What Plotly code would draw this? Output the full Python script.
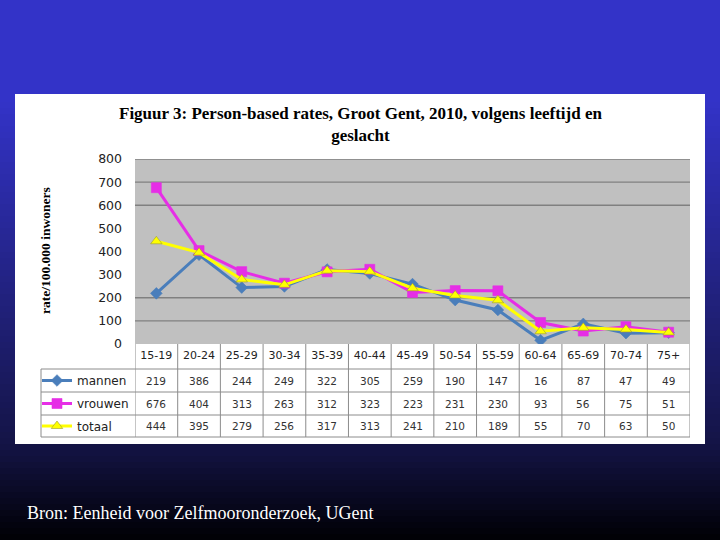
import plotly.graph_objects as go

categories = ["15-19", "20-24", "25-29", "30-34", "35-39", "40-44", "45-49",
              "50-54", "55-59", "60-64", "65-69", "70-74", "75+"]
mannen = [219, 386, 244, 249, 322, 305, 259, 190, 147, 16, 87, 47, 49]
vrouwen = [676, 404, 313, 263, 312, 323, 223, 231, 230, 93, 56, 75, 51]
totaal = [444, 395, 279, 256, 317, 313, 241, 210, 189, 55, 70, 63, 50]
y_ticks = [0, 100, 200, 300, 400, 500, 600, 700, 800]
grid_values = [100, 200, 600, 700, 800]

W, H = 720, 540
def px(x): return x / W
def py(y): return 1 - y / H

series = [
    ("mannen", mannen, "#4A7EBB", "diamond", 9, "legend"),
    ("vrouwen", vrouwen, "#E62EE6", "square", 10, "legend2"),
    ("totaal", totaal, "#FFFF00", "triangle-up", 10, "legend3"),
]
row_y = [380.5, 403.5, 426]

fig = go.Figure()
for name, vals, col, sym, ms, lg in series:
    fig.add_trace(go.Scatter(
        x=categories, y=vals, name=name, mode="lines+markers",
        line=dict(color=col, width=3),
        marker=dict(symbol=sym, size=ms, color=col,
                    line=dict(color="#9a9a30" if sym == "triangle-up" else col, width=0.6)),
        legend=lg, showlegend=True, hoverinfo="skip"))

shapes = []
def lerp(a, b, t): return tuple(round(a[i] + (b[i] - a[i]) * t) for i in range(3))
top = (51, 51, 200)
mid = (20, 20, 70)
bot = (0, 0, 4)
bands = 90
for i in range(bands):
    y0 = i * H / bands
    y1 = (i + 1) * H / bands + 0.5
    yc = (y0 + y1) / 2
    if yc < 100:
        c = top
    elif yc < 444:
        c = lerp(top, mid, (yc - 100) / 344)
    else:
        c = lerp(mid, bot, (yc - 444) / 96)
    shapes.append(dict(type="rect", xref="paper", yref="paper", x0=0, x1=1,
                       y0=max(0, py(y1)), y1=py(y0), line=dict(width=0),
                       fillcolor="rgb(%d,%d,%d)" % c, layer="below"))
shapes.append(dict(type="rect", xref="paper", yref="paper", x0=px(15), x1=px(705),
                   y0=py(444), y1=py(94), line=dict(width=0), fillcolor="white", layer="below"))
shapes.append(dict(type="rect", xref="x domain", yref="y domain", x0=0, x1=1, y0=0, y1=1,
                   line=dict(width=0), fillcolor="#C0C0C0", layer="below"))
for g in grid_values:
    shapes.append(dict(type="line", xref="x domain", yref="y", x0=0, x1=1, y0=g, y1=g,
                       line=dict(color="#808080", width=1.3), layer="below"))
tc = "#8C8C8C"
n = len(categories)
for k in range(n + 1):
    shapes.append(dict(type="line", xref="x", yref="paper", x0=k - 0.5, x1=k - 0.5,
                       y0=py(437), y1=py(344), line=dict(color=tc, width=1)))
for yy in [369, 392, 415, 437]:
    shapes.append(dict(type="line", xref="paper", yref="paper", x0=px(41), x1=px(690),
                       y0=py(yy), y1=py(yy), line=dict(color=tc, width=1)))
shapes.append(dict(type="line", xref="paper", yref="paper", x0=px(41), x1=px(41),
                   y0=py(437), y1=py(369), line=dict(color=tc, width=1)))

annotations = []
for (name, vals, col, sym, ms, lg), ry in zip(series, row_y):
    for c, v in zip(categories, vals):
        annotations.append(dict(x=c, xref="x", y=py(ry), yref="paper", text=str(v),
                                showarrow=False, xanchor="center", yanchor="middle",
                                font=dict(family="DejaVu Sans", size=10.5, color="#333333")))
annotations.append(dict(x=px(360), y=py(124), xref="paper", yref="paper",
                        text="<b>Figuur 3: Person-based rates, Groot Gent, 2010, volgens leeftijd en<br>geslacht</b>",
                        showarrow=False, xanchor="center", yanchor="middle",
                        font=dict(family="Liberation Serif", size=17, color="black")))
annotations.append(dict(x=px(45), y=py(251), xref="paper", yref="paper",
                        text="<b>rate/100.000 inwoners</b>", textangle=-90,
                        showarrow=False, xanchor="center", yanchor="middle",
                        font=dict(family="Liberation Serif", size=13.5, color="black")))
annotations.append(dict(x=px(25), y=py(513), xref="paper", yref="paper",
                        text="Bron: Eenheid voor Zelfmooronderzoek, UGent",
                        showarrow=False, xanchor="left", yanchor="middle",
                        font=dict(family="Liberation Serif", size=18, color="white")))

leg_common = dict(xanchor="left", yanchor="middle", bgcolor="rgba(0,0,0,0)",
                  font=dict(family="DejaVu Sans", size=12, color="#222222"),
                  borderwidth=0, itemwidth=30)
layout_legends = {}
for key, ry in zip(["legend", "legend2", "legend3"], row_y):
    layout_legends[key] = dict(x=px(37), y=py(ry), **leg_common)

fig.update_layout(
    width=W, height=H,
    margin=dict(l=0, r=0, t=0, b=0, pad=0, autoexpand=False),
    paper_bgcolor="#000000",
    plot_bgcolor="rgba(0,0,0,0)",
    shapes=shapes,
    annotations=annotations,
    hovermode=False,
    xaxis=dict(domain=[px(135), px(690)], type="category", range=[-0.5, n - 0.5],
               showgrid=False, zeroline=False, showline=False, ticks="",
               tickfont=dict(family="DejaVu Sans", size=11, color="#222222"),
               ticklabelstandoff=3, automargin=False),
    yaxis=dict(domain=[py(344), py(159)], range=[0, 800], tickvals=y_ticks,
               showgrid=False, zeroline=False, showline=False, ticks="",
               tickfont=dict(family="DejaVu Sans", size=12.5, color="#222222"),
               ticklabelstandoff=12, automargin=False),
    **layout_legends,
)

post = ("document.documentElement.style.margin='0';document.documentElement.style.overflow='hidden';"
        "document.body.style.margin='0';document.body.style.padding='0';document.body.style.overflow='hidden';"
        "var gd=document.getElementById('{plot_id}');gd.style.position='fixed';gd.style.top='0px';gd.style.left='0px';")

fig.write_html("out.html", config={"displayModeBar": False}, post_script=post)
